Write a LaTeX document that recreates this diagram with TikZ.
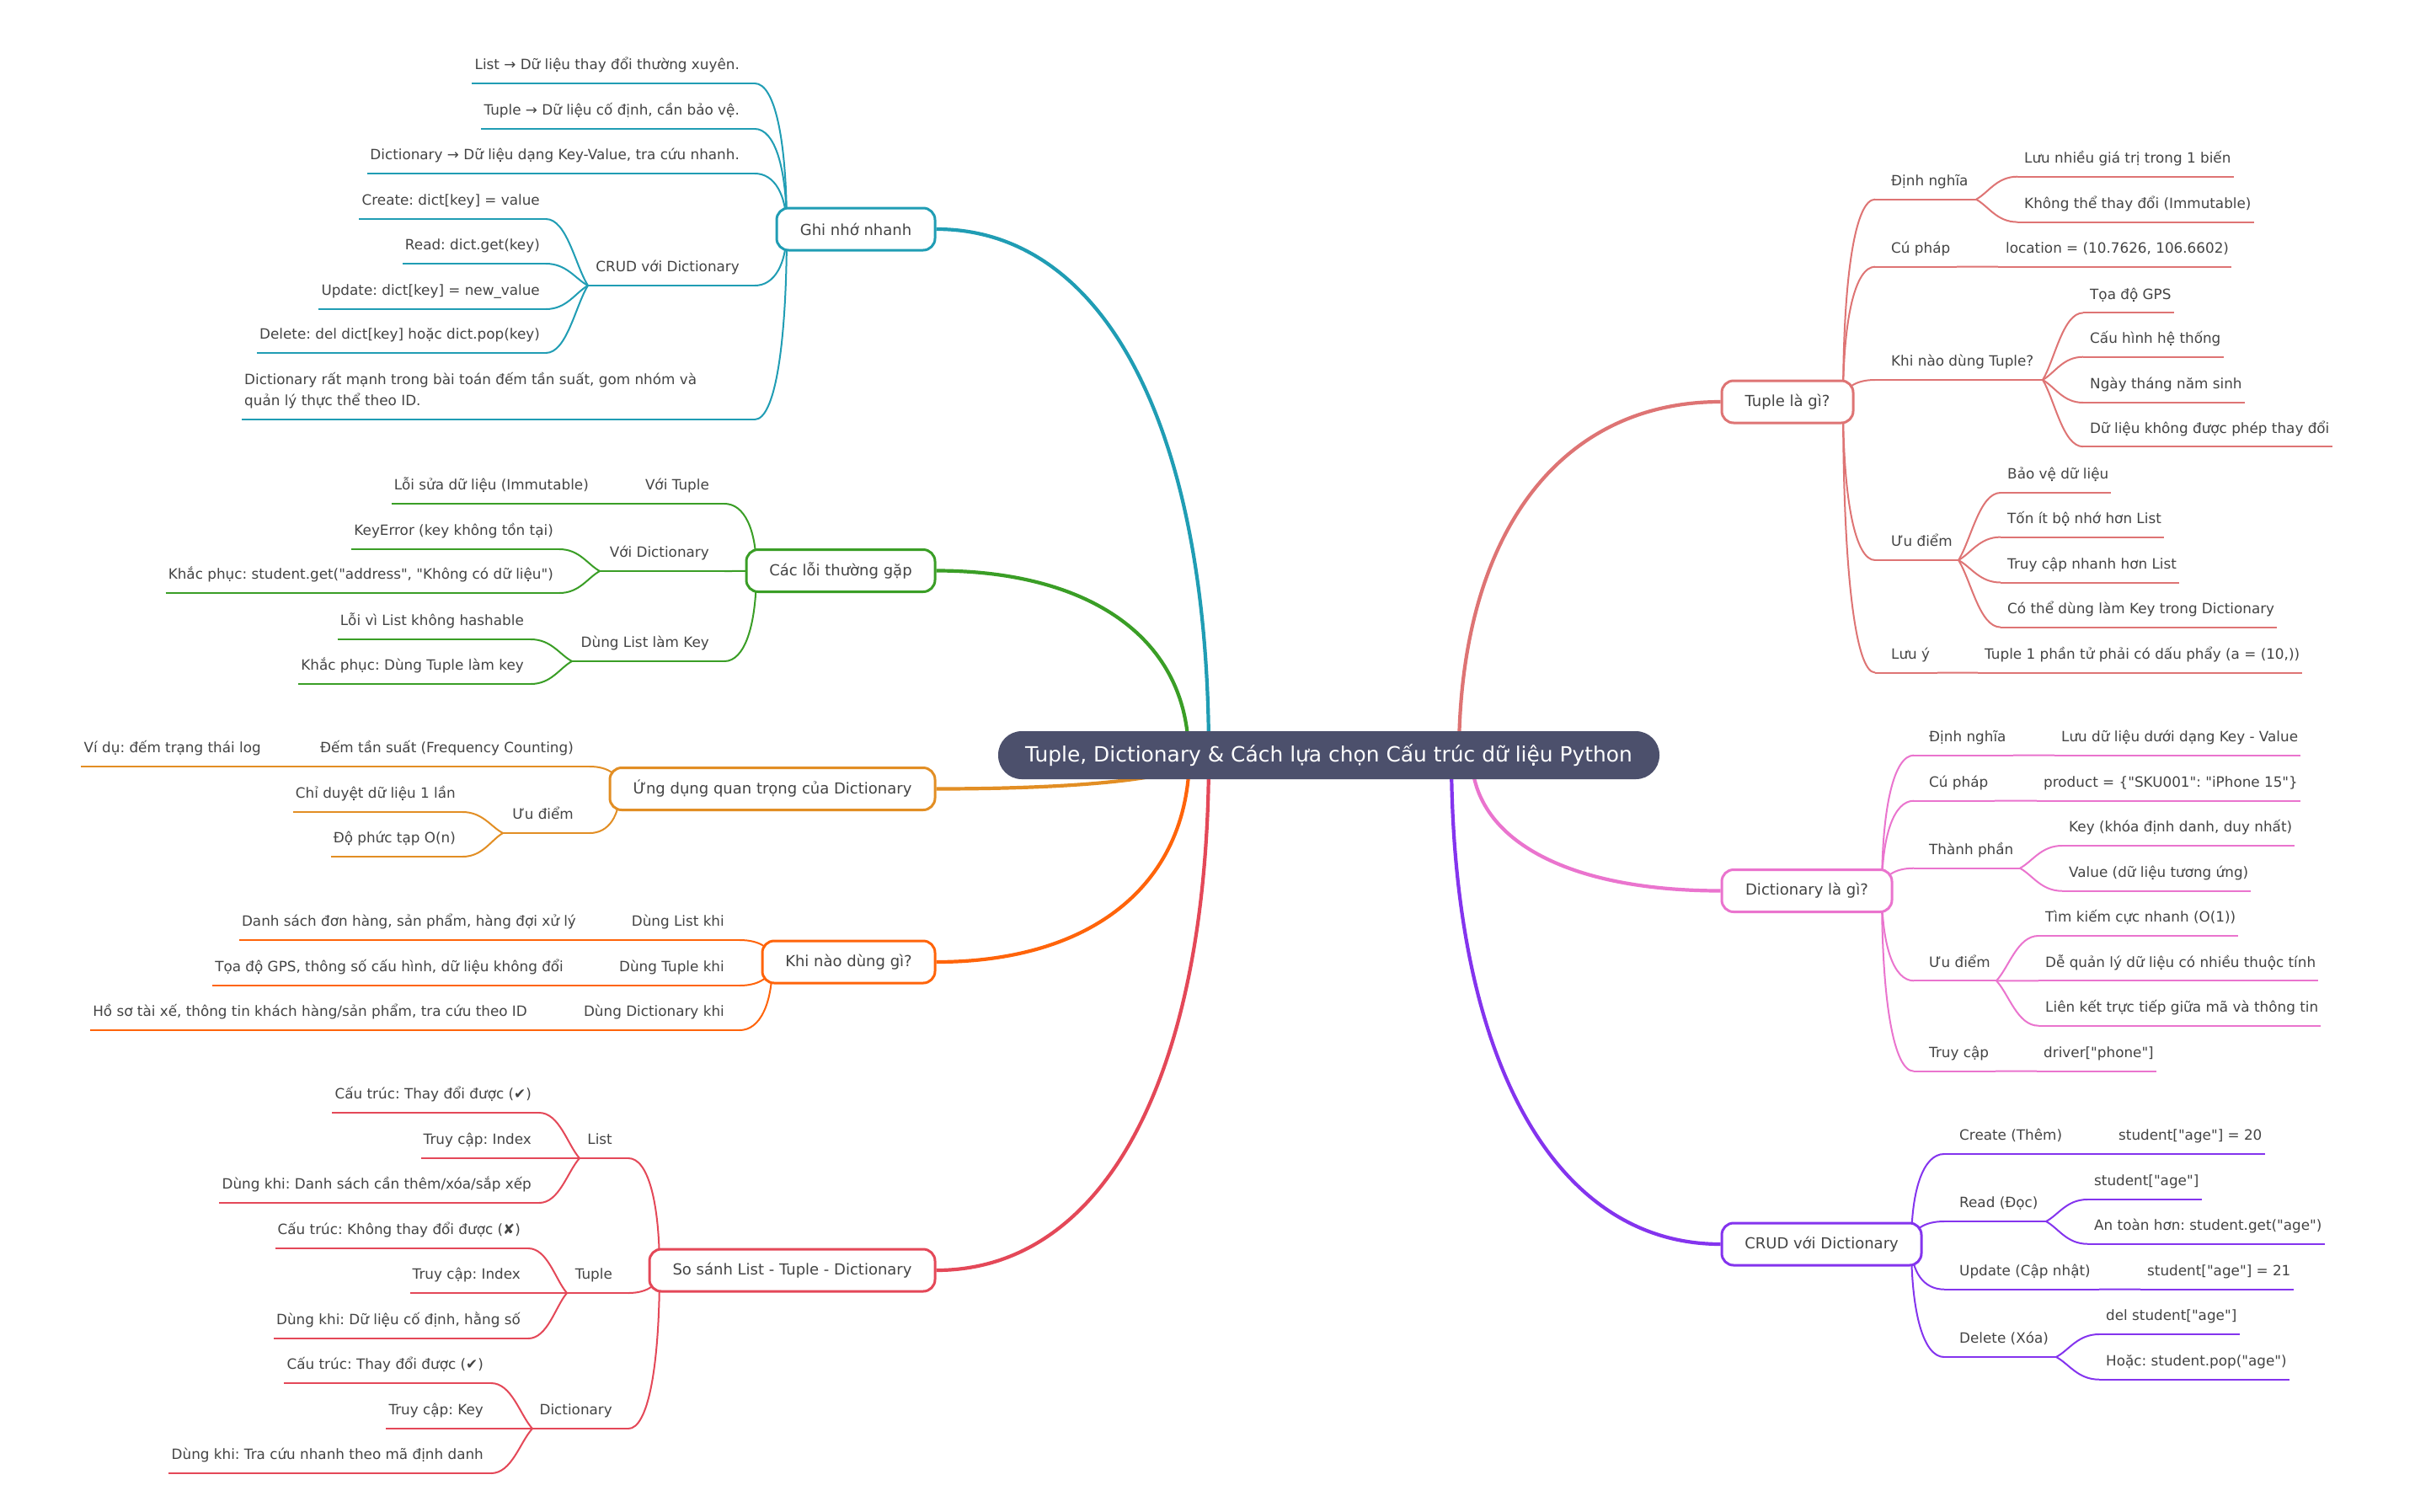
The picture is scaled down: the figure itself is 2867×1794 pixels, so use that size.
\documentclass[tikz,border=0pt]{standalone}
\usepackage{fontspec}
\setmainfont{DejaVu Sans}[Ligatures=TeXOff]
\usetikzlibrary{calc}
\pgfdeclarelayer{bg}
\pgfdeclarelayer{paper}
\pgfsetlayers{paper,bg,main}
\frenchspacing
\definecolor{cTeal}{RGB}{32,157,180}
\definecolor{cGreen}{RGB}{58,158,38}
\definecolor{cAmber}{RGB}{226,142,36}
\definecolor{cOrange}{RGB}{255,100,10}
\definecolor{cCrim}{RGB}{228,72,88}
\definecolor{cSalmon}{RGB}{222,116,116}
\definecolor{cPink}{RGB}{234,116,206}
\definecolor{cPurple}{RGB}{132,52,238}
\definecolor{cCenter}{RGB}{76,80,108}
\definecolor{cText}{RGB}{68,68,68}
\colorlet{br}{cTeal}
\tikzset{
  lf/.style={font=\fontsize{16.8}{20}\selectfont\frenchspacing, text=cText, inner xsep=0pt, inner ysep=12pt, text height=13pt, text depth=4pt},
  lftwo/.style={font=\fontsize{16.8}{25}\selectfont\frenchspacing, text=cText, inner sep=0pt, align=left},
  bx/.style={draw=br, line width=3pt, fill=white, rounded corners=14pt, minimum height=50pt, inner sep=0pt, font=\fontsize{18}{22}\selectfont, text=cText},
  ul/.style={draw=br, line width=2pt},
  cn/.style={draw=br, line width=4.2pt},
  ctr/.style={fill=cCenter, rounded corners=28pt, minimum width=785pt, minimum height=57pt, inner sep=0pt, text=white, font=\fontsize{24.9}{28}\selectfont}
}
% connectors
\newcommand\mmElb[3]{\draw[#1] (#2) .. controls ($(#2)!0.62!(#2|-#3)$) and ($(#3)!0.62!(#3-|#2)$) .. (#3);}
\newcommand\mmFan[2]{\draw[ul] (#1) .. controls ($(#1)!0.3!(#2)$) and ($(#2)!0.5!(#2-|#1)$) .. (#2);}
% left leaf: name, xr, uy, inner x, text
\newcommand\mmLL[5]{\node[lf,anchor=south east] (#1) at (#2,#3) {#5};
  \coordinate (#1i) at (#4,#3);
  \draw[ul] ([xshift=-3pt]#1.south west) -- (#1i);}
% left middle: name, xr, uy, inner x, junction x, text
\newcommand\mmLM[6]{\node[lf,anchor=south east] (#1) at (#2,#3) {#6};
  \coordinate (#1i) at (#4,#3);
  \coordinate (#1j) at (#5,#3);
  \draw[ul] (#1j) -- (#1i);}
% right leaf: name, xl, uy, inner x, text
\newcommand\mmRL[5]{\node[lf,anchor=south west] (#1) at (#2,#3) {#5};
  \coordinate (#1i) at (#4,#3);
  \draw[ul] (#1i) -- ([xshift=3pt]#1.south east);}
% right middle: name, xl, uy, inner x, junction x, text
\newcommand\mmRM[6]{\node[lf,anchor=south west] (#1) at (#2,#3) {#6};
  \coordinate (#1i) at (#4,#3);
  \coordinate (#1j) at (#5,#3);
  \draw[ul] (#1i) -- (#1j);}
\begin{document}
\begin{tikzpicture}[x=1pt,y=-1pt]
\useasboundingbox (0,0) rectangle (2867,1794);
\begin{pgfonlayer}{paper}
\fill[white] (0,0) rectangle (2867,1794);
\end{pgfonlayer}

% ===== centre =====
\node[ctr] (c) at (1577.5,896.5) {Tuple, Dictionary \& Cách lựa chọn Cấu trúc dữ liệu Python};

% ===== Ghi nho nhanh (teal) =====
\begin{scope}
\colorlet{br}{cTeal}
\node[bx, minimum width=188pt] (gn) at (1016,272) {Ghi nhớ nhanh};
\coordinate (gnP) at (934,272);
\coordinate (cgn) at (1435,896);
\mmLL{gn1}{878}{99}{896}{List → Dữ liệu thay đổi thường xuyên.}
\mmLL{gn2}{878}{153}{896}{Tuple → Dữ liệu cố định, cần bảo vệ.}
\mmLL{gn3}{878}{206}{896}{Dictionary → Dữ liệu dạng Key-Value, tra cứu nhanh.}
\mmLM{gn4}{878}{339}{896}{698}{CRUD với Dictionary}
\mmLL{gn41}{641}{260}{648}{Create: dict[key] = value}
\mmLL{gn42}{641}{313}{648}{Read: dict.get(key)}
\mmLL{gn43}{641}{367}{648}{Update: dict[key] = new\_value}
\mmLL{gn44}{641}{419}{648}{Delete: del dict[key] hoặc dict.pop(key)}
\node[lftwo, anchor=north west] (gn5) at (290,442) {Dictionary rất mạnh trong bài toán đếm tần suất, gom nhóm và\\quản lý thực thể theo ID.};
\coordinate (gn5o) at (287,498);
\coordinate (gn5i) at (896,498);
\draw[ul] (gn5o) -- (gn5i);
\mmFan{gn4j}{gn41i}\mmFan{gn4j}{gn42i}\mmFan{gn4j}{gn43i}\mmFan{gn4j}{gn44i}
\begin{pgfonlayer}{bg}
\mmElb{ul}{gnP}{gn1i}\mmElb{ul}{gnP}{gn2i}\mmElb{ul}{gnP}{gn3i}\mmElb{ul}{gnP}{gn4i}\mmElb{ul}{gnP}{gn5i}
\mmElb{cn}{cgn}{gn.east}
\end{pgfonlayer}
\end{scope}

% ===== Cac loi thuong gap (green) =====
\begin{scope}
\colorlet{br}{cGreen}
\node[bx, minimum width=224pt] (cl) at (998,677.5) {Các lỗi thường gặp};
\coordinate (clP) at (898,677.5);
\coordinate (ccl) at (1411,896);
\mmLM{cl1}{842}{598}{860}{757}{Với Tuple}
\mmLL{cl11}{699}{598}{709}{Lỗi sửa dữ liệu (Immutable)}
\mmLM{cl2}{842}{678}{860}{712}{Với Dictionary}
\mmLL{cl21}{657}{652}{664}{KeyError (key không tồn tại)}
\mmLL{cl22}{657}{704}{664}{Khắc phục: student.get("address", "Không có dữ liệu")}
\mmLM{cl3}{842}{785}{860}{679}{Dùng List làm Key}
\mmLL{cl31}{622}{759}{630}{Lỗi vì List không hashable}
\mmLL{cl32}{622}{812}{630}{Khắc phục: Dùng Tuple làm key}
\mmFan{cl1j}{cl11i}
\mmFan{cl2j}{cl21i}\mmFan{cl2j}{cl22i}
\mmFan{cl3j}{cl31i}\mmFan{cl3j}{cl32i}
\begin{pgfonlayer}{bg}
\mmElb{ul}{clP}{cl1i}\mmElb{ul}{clP}{cl2i}\mmElb{ul}{clP}{cl3i}
\mmElb{cn}{ccl}{cl.east}
\end{pgfonlayer}
\end{scope}

% ===== Ung dung (amber) =====
\begin{scope}
\colorlet{br}{cAmber}
\node[bx, minimum width=386pt] (ud) at (917,936.5) {Ứng dụng quan trọng của Dictionary};
\coordinate (udP) at (736,936.5);
\coordinate (cud) at (1425,896);
\mmLM{ud1}{681}{910}{700}{367}{Đếm tần suất (Frequency Counting)}
\mmLL{ud11}{310}{910}{318}{Ví dụ: đếm trạng thái log}
\mmLM{ud2}{681}{989}{700}{597}{Ưu điểm}
\mmLL{ud21}{541}{964}{549}{Chỉ duyệt dữ liệu 1 lần}
\mmLL{ud22}{541}{1017}{549}{Độ phức tạp O(n)}
\mmFan{ud1j}{ud11i}
\mmFan{ud2j}{ud21i}\mmFan{ud2j}{ud22i}
\begin{pgfonlayer}{bg}
\mmElb{ul}{udP}{ud1i}\mmElb{ul}{udP}{ud2i}
\mmElb{cn}{cud}{ud.east}
\end{pgfonlayer}
\end{scope}

% ===== Khi nao dung gi (orange) =====
\begin{scope}
\colorlet{br}{cOrange}
\node[bx, minimum width=205pt] (kn) at (1007.5,1142) {Khi nào dùng gì?};
\coordinate (knP) at (917,1142);
\coordinate (ckn) at (1412,896);
\mmLM{kn1}{860}{1116}{878}{740}{Dùng List khi}
\mmLL{kn11}{684}{1116}{692}{Danh sách đơn hàng, sản phẩm, hàng đợi xử lý}
\mmLM{kn2}{860}{1170}{878}{725}{Dùng Tuple khi}
\mmLL{kn21}{669}{1170}{677}{Tọa độ GPS, thông số cấu hình, dữ liệu không đổi}
\mmLM{kn3}{860}{1223}{878}{683}{Dùng Dictionary khi}
\mmLL{kn31}{626}{1223}{634}{Hồ sơ tài xế, thông tin khách hàng/sản phẩm, tra cứu theo ID}
\mmFan{kn1j}{kn11i}\mmFan{kn2j}{kn21i}\mmFan{kn3j}{kn31i}
\begin{pgfonlayer}{bg}
\mmElb{ul}{knP}{kn1i}\mmElb{ul}{knP}{kn2i}\mmElb{ul}{knP}{kn3i}
\mmElb{cn}{ckn}{kn.east}
\end{pgfonlayer}
\end{scope}

% ===== So sanh (crimson) =====
\begin{scope}
\colorlet{br}{cCrim}
\node[bx, minimum width=339pt] (ss) at (940.5,1508) {So sánh List - Tuple - Dictionary};
\coordinate (ssP) at (783,1508);
\coordinate (css) at (1435,896);
\mmLM{ss1}{727}{1375}{746}{688}{List}
\mmLL{ss11}{631}{1321}{640}{Cấu trúc: Thay đổi được (✔)}
\mmLL{ss12}{631}{1375}{640}{Truy cập: Index}
\mmLL{ss13}{631}{1428}{640}{Dùng khi: Danh sách cần thêm/xóa/sắp xếp}
\mmLM{ss2}{727}{1535}{746}{673}{Tuple}
\mmLL{ss21}{618}{1482}{627}{Cấu trúc: Không thay đổi được (✘)}
\mmLL{ss22}{618}{1535}{627}{Truy cập: Index}
\mmLL{ss23}{618}{1589}{627}{Dùng khi: Dữ liệu cố định, hằng số}
\mmLM{ss3}{727}{1696}{746}{632}{Dictionary}
\mmLL{ss31}{574}{1642}{583}{Cấu trúc: Thay đổi được (✔)}
\mmLL{ss32}{574}{1696}{583}{Truy cập: Key}
\mmLL{ss33}{574}{1749}{583}{Dùng khi: Tra cứu nhanh theo mã định danh}
\mmFan{ss1j}{ss11i}\mmFan{ss1j}{ss12i}\mmFan{ss1j}{ss13i}
\mmFan{ss2j}{ss21i}\mmFan{ss2j}{ss22i}\mmFan{ss2j}{ss23i}
\mmFan{ss3j}{ss31i}\mmFan{ss3j}{ss32i}\mmFan{ss3j}{ss33i}
\begin{pgfonlayer}{bg}
\mmElb{ul}{ssP}{ss1i}\mmElb{ul}{ssP}{ss2i}\mmElb{ul}{ssP}{ss3i}
\mmElb{cn}{css}{ss.east}
\end{pgfonlayer}
\end{scope}

% ===== Tuple la gi (salmon) =====
\begin{scope}
\colorlet{br}{cSalmon}
\node[bx, minimum width=156pt] (tp) at (2122,477) {Tuple là gì?};
\coordinate (tpP) at (2188,477);
\coordinate (ctp) at (1732,896);
\mmRM{tp1}{2245}{236.7}{2226}{2346}{Định nghĩa}
\mmRL{tp11}{2403}{209.7}{2395}{Lưu nhiều giá trị trong 1 biến}
\mmRL{tp12}{2403}{263.6}{2395}{Không thể thay đổi (Immutable)}
\mmRM{tp2}{2245}{316.7}{2226}{2323}{Cú pháp}
\mmRL{tp21}{2381}{316.7}{2372}{location = (10.7626, 106.6602)}
\mmRM{tp3}{2245}{451}{2226}{2425}{Khi nào dùng Tuple?}
\mmRL{tp31}{2481}{371.4}{2473}{Tọa độ GPS}
\mmRL{tp32}{2481}{423.7}{2473}{Cấu hình hệ thống}
\mmRL{tp33}{2481}{478}{2473}{Ngày tháng năm sinh}
\mmRL{tp34}{2481}{530.2}{2473}{Dữ liệu không được phép thay đổi}
\mmRM{tp4}{2245}{665}{2226}{2325}{Ưu điểm}
\mmRL{tp41}{2383}{585}{2375}{Bảo vệ dữ liệu}
\mmRL{tp42}{2383}{637.6}{2375}{Tốn ít bộ nhớ hơn List}
\mmRL{tp43}{2383}{691.5}{2375}{Truy cập nhanh hơn List}
\mmRL{tp44}{2383}{744.6}{2375}{Có thể dùng làm Key trong Dictionary}
\mmRM{tp5}{2245}{798.5}{2226}{2300}{Lưu ý}
\mmRL{tp51}{2356}{798.5}{2348}{Tuple 1 phần tử phải có dấu phẩy (a = (10,))}
\mmFan{tp1j}{tp11i}\mmFan{tp1j}{tp12i}
\mmFan{tp2j}{tp21i}
\mmFan{tp3j}{tp31i}\mmFan{tp3j}{tp32i}\mmFan{tp3j}{tp33i}\mmFan{tp3j}{tp34i}
\mmFan{tp4j}{tp41i}\mmFan{tp4j}{tp42i}\mmFan{tp4j}{tp43i}\mmFan{tp4j}{tp44i}
\mmFan{tp5j}{tp51i}
\begin{pgfonlayer}{bg}
\mmElb{ul}{tpP}{tp1i}\mmElb{ul}{tpP}{tp2i}\mmElb{ul}{tpP}{tp3i}\mmElb{ul}{tpP}{tp4i}\mmElb{ul}{tpP}{tp5i}
\mmElb{cn}{ctp}{tp.west}
\end{pgfonlayer}
\end{scope}

% ===== Dictionary la gi (pink) =====
\begin{scope}
\colorlet{br}{cPink}
\node[bx, minimum width=202pt] (dc) at (2145,1057.5) {Dictionary là gì?};
\coordinate (dcP) at (2234,1057.5);
\coordinate (cdc) at (1747,896);
\mmRM{dc1}{2290}{896.7}{2272}{2390}{Định nghĩa}
\mmRL{dc11}{2447}{896.7}{2439}{Lưu dữ liệu dưới dạng Key - Value}
\mmRM{dc2}{2290}{950.7}{2272}{2368}{Cú pháp}
\mmRL{dc21}{2426}{950.7}{2418}{product = \{"SKU001": "iPhone 15"\}}
\mmRM{dc3}{2290}{1030.7}{2272}{2398}{Thành phần}
\mmRL{dc31}{2456}{1004}{2448}{Key (khóa định danh, duy nhất)}
\mmRL{dc32}{2456}{1057.7}{2448}{Value (dữ liệu tương ứng)}
\mmRM{dc4}{2290}{1164.3}{2272}{2370}{Ưu điểm}
\mmRL{dc41}{2428}{1111}{2420}{Tìm kiếm cực nhanh (O(1))}
\mmRL{dc42}{2428}{1164.3}{2420}{Dễ quản lý dữ liệu có nhiều thuộc tính}
\mmRL{dc43}{2428}{1217.7}{2420}{Liên kết trực tiếp giữa mã và thông tin}
\mmRM{dc5}{2290}{1271.7}{2272}{2369}{Truy cập}
\mmRL{dc51}{2426}{1271.7}{2418}{driver["phone"]}
\mmFan{dc1j}{dc11i}\mmFan{dc2j}{dc21i}
\mmFan{dc3j}{dc31i}\mmFan{dc3j}{dc32i}
\mmFan{dc4j}{dc41i}\mmFan{dc4j}{dc42i}\mmFan{dc4j}{dc43i}
\mmFan{dc5j}{dc51i}
\begin{pgfonlayer}{bg}
\mmElb{ul}{dcP}{dc1i}\mmElb{ul}{dcP}{dc2i}\mmElb{ul}{dcP}{dc3i}\mmElb{ul}{dcP}{dc4i}\mmElb{ul}{dcP}{dc5i}
\mmElb{cn}{cdc}{dc.west}
\end{pgfonlayer}
\end{scope}

% ===== CRUD voi Dictionary (purple) =====
\begin{scope}
\colorlet{br}{cPurple}
\node[bx, minimum width=237pt] (cr) at (2162.5,1477) {CRUD với Dictionary};
\coordinate (crP) at (2269,1477);
\coordinate (ccr) at (1723,896);
\mmRM{cr1}{2326}{1370}{2308}{2458}{Create (Thêm)}
\mmRL{cr11}{2515}{1370}{2507}{student["age"] = 20}
\mmRM{cr2}{2326}{1450}{2308}{2429}{Read (Đọc)}
\mmRL{cr21}{2486}{1424}{2478}{student["age"]}
\mmRL{cr22}{2486}{1476.7}{2478}{An toàn hơn: student.get("age")}
\mmRM{cr3}{2326}{1530.7}{2308}{2492}{Update (Cập nhật)}
\mmRL{cr31}{2549}{1530.7}{2541}{student["age"] = 21}
\mmRM{cr4}{2326}{1611}{2308}{2441}{Delete (Xóa)}
\mmRL{cr41}{2500}{1584}{2492}{del student["age"]}
\mmRL{cr42}{2500}{1637.7}{2492}{Hoặc: student.pop("age")}
\mmFan{cr1j}{cr11i}
\mmFan{cr2j}{cr21i}\mmFan{cr2j}{cr22i}
\mmFan{cr3j}{cr31i}
\mmFan{cr4j}{cr41i}\mmFan{cr4j}{cr42i}
\begin{pgfonlayer}{bg}
\mmElb{ul}{crP}{cr1i}\mmElb{ul}{crP}{cr2i}\mmElb{ul}{crP}{cr3i}\mmElb{ul}{crP}{cr4i}
\mmElb{cn}{ccr}{cr.west}
\end{pgfonlayer}
\end{scope}
\end{tikzpicture}
\end{document}
